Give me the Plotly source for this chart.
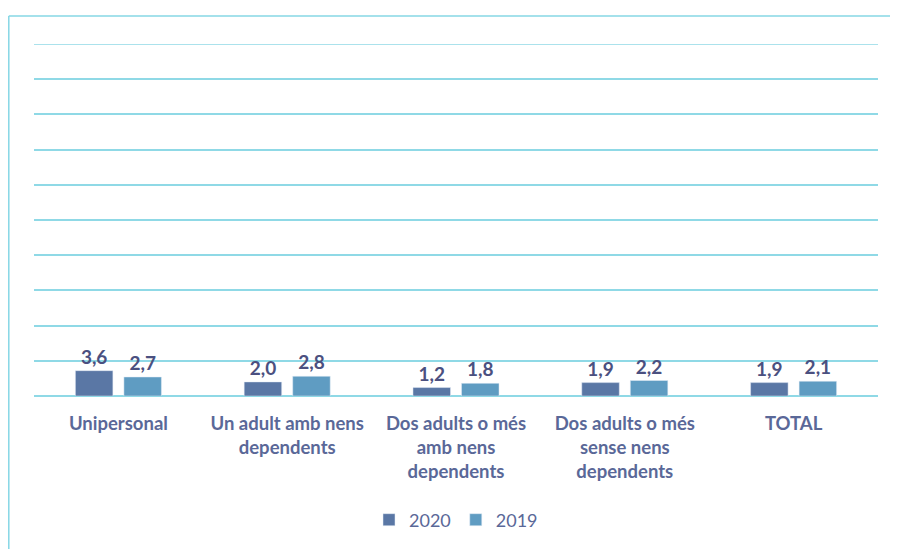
import plotly.graph_objects as go

categories = ["Unipersonal", "Un adult amb nens<br>dependents", "Dos adults o més<br>amb nens<br>dependents",
              "Dos adults o més<br>sense nens<br>dependents", "TOTAL"]
values_2020 = [3.6, 2.0, 1.2, 1.9, 1.9]
values_2019 = [2.7, 2.8, 1.8, 2.2, 2.1]
labels_2020 = ["3,6", "2,0", "1,2", "1,9", "1,9"]
labels_2019 = ["2,7", "2,8", "1,8", "2,2", "2,1"]

# page body has an 8px margin: work in target-pixel coords minus 8
OFF = 8
W, H = 898 - OFF, 549 - OFF
PX0, PX1, PY0, PY1 = 34 - OFF, 878 - OFF, 44 - OFF, 396 - OFF
L, R, T, B = PX0, W - PX1, PY0, H - PY1
pw, ph = PX1 - PX0, PY1 - PY0

FONT = "Lato, Open Sans, sans-serif"
label_font = dict(family=FONT, size=19, color="#4b5080", weight="bold")

fig = go.Figure()
fig.add_trace(go.Bar(name="2020", x=categories, y=values_2020, marker_color="#5a77a5",
                     text=labels_2020, textposition="outside", textfont=label_font, cliponaxis=False))
fig.add_trace(go.Bar(name="2019", x=categories, y=values_2019, marker_color="#5f9cc2",
                     text=labels_2019, textposition="outside", textfont=label_font, cliponaxis=False))

def px_x(x):
    return (x - OFF - PX0) / pw

def px_y(y):
    return (PY1 - (y - OFF)) / ph

line = dict(color="#86d7e5", width=1.5)
fig.add_shape(type="line", xref="paper", yref="paper", x0=px_x(8.8), x1=px_x(8.8), y0=px_y(16), y1=px_y(560), line=line)
fig.add_shape(type="line", xref="paper", yref="paper", x0=px_x(8.8), x1=px_x(905), y0=px_y(16), y1=px_y(16), line=line)
# top gridline at 50
fig.add_shape(type="line", xref="paper", yref="y", x0=0, x1=1, y0=50, y1=50,
              line=dict(color="#8fd9e6", width=1.5), layer="below")

fig.update_layout(
    width=W, height=H,
    margin=dict(l=L, r=R, t=T, b=B, autoexpand=False),
    paper_bgcolor="white", plot_bgcolor="white",
    barmode="group", bargap=0.425, bargroupgap=0.227,
    showlegend=True,
    legend=dict(orientation="h", x=0.5, xanchor="center", y=px_y(520), yanchor="middle",
                font=dict(family=FONT, size=18, color="#5a6898"),
                itemwidth=30, traceorder="normal"),
    xaxis=dict(tickfont=dict(family=FONT, size=18.5, color="#5a6898", weight="bold"),
               showline=False, ticks="", showgrid=False, ticklabelstandoff=14, automargin=False),
    yaxis=dict(range=[0, 50], dtick=5, showticklabels=False, showgrid=True, gridcolor="#8fd9e6",
               gridwidth=1.5, zeroline=True, zerolinecolor="#8fd9e6", zerolinewidth=1.5, automargin=False),
)

fig.write_html("out.html")
